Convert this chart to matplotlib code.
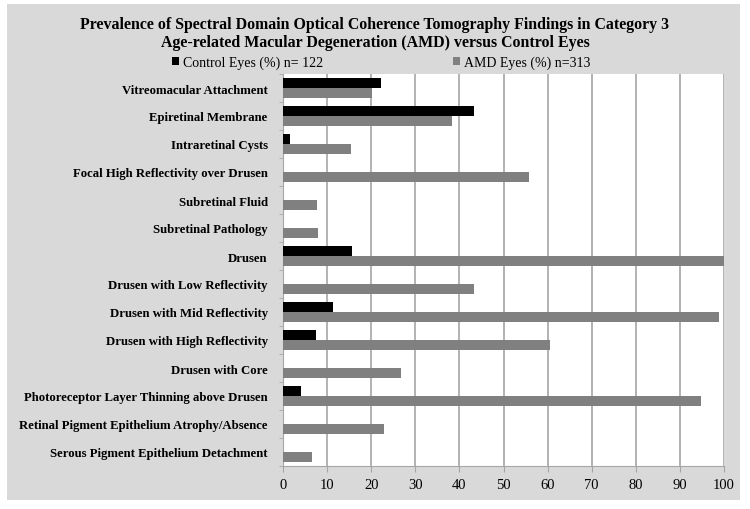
import numpy as np
import matplotlib.pyplot as plt
from matplotlib.patches import Rectangle

# Data (percent of eyes)
findings = [
    "Vitreomacular Attachment",
    "Epiretinal Membrane",
    "Intraretinal Cysts",
    "Focal High Reflectivity over Drusen",
    "Subretinal Fluid",
    "Subretinal Pathology",
    "Drusen",
    "Drusen with Low Reflectivity",
    "Drusen with Mid Reflectivity",
    "Drusen with High Reflectivity",
    "Drusen with Core",
    "Photoreceptor Layer Thinning above Drusen",
    "Retinal Pigment Epithelium Atrophy/Absence",
    "Serous Pigment Epithelium Detachment",
]
control_pct = [22.2, 43.4, 1.7, 0, 0, 0, 15.6, 0, 11.4, 7.5, 0, 4.0, 0, 0]
amd_pct = [20.2, 38.3, 15.4, 55.8, 7.7, 8.0, 100, 43.4, 98.9, 60.6, 26.8, 94.7, 23.0, 6.6]

plt.rcParams['font.family'] = ['Liberation Serif', 'DejaVu Serif']

fig = plt.figure(figsize=(7.5, 5.1), dpi=100)
fig.patch.set_facecolor('white')
# gray chart panel like the Excel chart area
fig.patches.append(Rectangle((7 / 750, 1 - 501 / 510), 733 / 750, 496 / 510,
                             transform=fig.transFigure, facecolor='#d9d9d9',
                             edgecolor='none', zorder=-5))

ax = fig.add_axes([283 / 750, 1 - 467 / 510, 441 / 750, 392 / 510])
ax.set_facecolor('white')

y = np.arange(len(findings))
h = 0.37
ax.barh(y - h / 2, control_pct, height=h, color='black', label='Control Eyes (%) n= 122', zorder=3)
ax.barh(y + h / 2, amd_pct, height=h, color='#808080', label='AMD Eyes (%) n=313', zorder=3)

ax.set_xlim(0, 100)
ax.set_ylim(len(findings) - 0.5, -0.5)
ax.set_xticks(np.arange(0, 101, 10))
ax.xaxis.grid(True, color='#a6a6a6', linewidth=1.2, zorder=1)
ax.set_axisbelow(True)
ax.set_yticks(y)
ax.set_yticklabels(findings, fontweight='bold', fontsize=9.2)
ax.set_yticks(np.arange(-0.5, len(findings), 1), minor=True)
ax.tick_params(axis='y', which='major', length=0, pad=11)
ax.tick_params(axis='y', which='minor', length=3, color='#a6a6a6')
ax.tick_params(axis='x', length=4, color='#a6a6a6', labelsize=10.5, pad=5)
for side in ['top', 'right']:
    ax.spines[side].set_visible(False)
ax.spines['left'].set_color('#a6a6a6')
ax.spines['bottom'].set_color('#a6a6a6')

fig.text(0.5, 1 - 25 / 510, "Prevalence of Spectral Domain Optical Coherence Tomography Findings in Category 3",
         ha='center', va='center', fontsize=11.4, fontweight='bold')
fig.text(0.5, 1 - 43 / 510, "Age-related Macular Degeneration (AMD) versus Control Eyes",
         ha='center', va='center', fontsize=11.4, fontweight='bold')

handles, labels = ax.get_legend_handles_labels()
fig.legend([handles[0]], [labels[0]], loc='center left', bbox_to_anchor=(172 / 750, 1 - 63 / 510),
           frameon=False, fontsize=10, handlelength=0.5, handleheight=0.5, handletextpad=0.3,
           borderpad=0, borderaxespad=0)
fig.legend([handles[1]], [labels[1]], loc='center left', bbox_to_anchor=(453 / 750, 1 - 63 / 510),
           frameon=False, fontsize=10, handlelength=0.5, handleheight=0.5, handletextpad=0.3,
           borderpad=0, borderaxespad=0)

plt.savefig('out.png', dpi=100, facecolor=fig.get_facecolor())
plt.close()
